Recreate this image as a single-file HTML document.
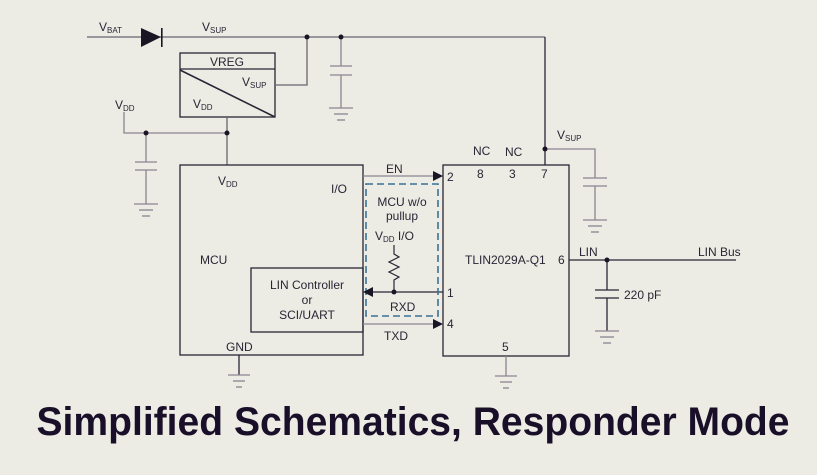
<!DOCTYPE html>
<html><head><meta charset="utf-8"><style>
html,body{margin:0;padding:0;background:#ecebe4;}
svg{display:block}
text{font-family:"Liberation Sans",sans-serif;fill:#2a2535;font-size:12px}
.s{font-size:8px}
</style></head><body>
<svg width="817" height="475" viewBox="0 0 817 475" xmlns="http://www.w3.org/2000/svg">
<rect width="817" height="475" fill="#ecebe4"/>
<g stroke="#2a2535" stroke-width="1.3" fill="none">
<line x1="87" y1="37" x2="545" y2="37" stroke="#6a6570"/>
<line x1="545" y1="37" x2="545" y2="165" stroke="#2a2535"/>
<rect x="180" y="53" width="95" height="64"/>
<line x1="180" y1="69" x2="275" y2="69"/>
<line x1="180" y1="70" x2="275" y2="117" stroke-width="1.6"/>
<polyline points="275,85 307,85 307,37" stroke="#6a6570"/>
<line x1="341" y1="37" x2="341" y2="66" stroke="#8a8590"/>
<line x1="341" y1="75" x2="341" y2="108" stroke="#8a8590"/>
<line x1="330" y1="66" x2="352" y2="66" stroke="#8a8590"/>
<line x1="330" y1="75" x2="352" y2="75" stroke="#8a8590"/>
<line x1="329" y1="108" x2="353" y2="108" stroke="#8a8590"/>
<line x1="334" y1="114" x2="348" y2="114" stroke="#8a8590"/>
<line x1="337" y1="120" x2="345" y2="120" stroke="#8a8590"/>
<polyline points="124,112 124,133 227,133" stroke="#8a8590"/>
<line x1="227" y1="117" x2="227" y2="165" stroke="#6a6570"/>
<line x1="146" y1="133" x2="146" y2="162" stroke="#8a8590"/>
<line x1="146" y1="170" x2="146" y2="204" stroke="#8a8590"/>
<line x1="135" y1="162" x2="157" y2="162" stroke="#8a8590"/>
<line x1="135" y1="170" x2="157" y2="170" stroke="#8a8590"/>
<line x1="134" y1="204" x2="158" y2="204" stroke="#8a8590"/>
<line x1="139" y1="210" x2="153" y2="210" stroke="#8a8590"/>
<line x1="142" y1="216" x2="150" y2="216" stroke="#8a8590"/>
<rect x="180" y="165" width="183" height="190"/>
<rect x="251" y="268" width="112" height="64"/>
<line x1="239" y1="355" x2="239" y2="375"/>
<line x1="228" y1="375" x2="250" y2="375" stroke="#8a8590"/>
<line x1="233" y1="381" x2="245" y2="381" stroke="#8a8590"/>
<line x1="236" y1="387" x2="242" y2="387" stroke="#8a8590"/>
<line x1="363" y1="176" x2="435" y2="176" stroke="#8a8590"/>
<line x1="370" y1="292" x2="443" y2="292"/>
<line x1="363" y1="324" x2="435" y2="324" stroke="#8a8590"/>
<rect x="366" y="184" width="72" height="132" stroke="#3a7396" stroke-width="1.6" stroke-dasharray="7,4"/>
<polyline points="394,245 394,254 399,257 389,262 399,267 389,272 399,277 394,280 394,292" stroke-width="1.2"/>
<rect x="443" y="165" width="126" height="191"/>
<line x1="506" y1="356" x2="506" y2="376" stroke="#8a8590"/>
<line x1="495" y1="376" x2="517" y2="376" stroke="#8a8590"/>
<line x1="500" y1="382" x2="512" y2="382" stroke="#8a8590"/>
<line x1="503" y1="388" x2="509" y2="388" stroke="#8a8590"/>
<polyline points="545,149 595,149 595,178" stroke="#8a8590"/>
<line x1="595" y1="186" x2="595" y2="220" stroke="#8a8590"/>
<line x1="583" y1="178" x2="607" y2="178" stroke="#8a8590"/>
<line x1="583" y1="186" x2="607" y2="186" stroke="#8a8590"/>
<line x1="583" y1="220" x2="607" y2="220" stroke="#8a8590"/>
<line x1="588" y1="226" x2="602" y2="226" stroke="#8a8590"/>
<line x1="591" y1="232" x2="599" y2="232" stroke="#8a8590"/>
<line x1="569" y1="260" x2="736" y2="260"/>
<line x1="607" y1="260" x2="607" y2="290"/>
<line x1="607" y1="298" x2="607" y2="331"/>
<line x1="595" y1="290" x2="619" y2="290"/>
<line x1="595" y1="298" x2="619" y2="298"/>
<line x1="595" y1="331" x2="619" y2="331" stroke="#8a8590"/>
<line x1="600" y1="337" x2="614" y2="337" stroke="#8a8590"/>
<line x1="603" y1="343" x2="611" y2="343" stroke="#8a8590"/>
</g>
<g fill="#1a1525">
<polygon points="141,28 141,47 161,37"/>
<rect x="161" y="28" width="1.6" height="19"/>
<circle cx="307" cy="37" r="2.5"/><circle cx="341" cy="37" r="2.5"/>
<circle cx="146" cy="133" r="2.5"/><circle cx="227" cy="133" r="2.5"/>
<circle cx="394" cy="292" r="2.5"/><circle cx="545" cy="149" r="2.5"/>
<circle cx="607" cy="260" r="2.5"/>
<polygon points="433,171 443,176 433,181"/>
<polygon points="433,319 443,324 433,329"/>
<polygon points="373,287 363,292 373,297"/>
</g>
<text x="99" y="31">V<tspan class="s" dy="2">BAT</tspan></text>
<text x="202" y="31">V<tspan class="s" dy="2">SUP</tspan></text>
<text x="210" y="66">VREG</text>
<text x="242" y="86">V<tspan class="s" dy="2">SUP</tspan></text>
<text x="193" y="108">V<tspan class="s" dy="2">DD</tspan></text>
<text x="115" y="109">V<tspan class="s" dy="2">DD</tspan></text>
<text x="218" y="185">V<tspan class="s" dy="2">DD</tspan></text>
<text x="331" y="193">I/O</text>
<text x="200" y="264">MCU</text>
<text x="307" y="289" text-anchor="middle">LIN Controller</text>
<text x="307" y="304" text-anchor="middle">or</text>
<text x="307" y="319" text-anchor="middle">SCI/UART</text>
<text x="226" y="351">GND</text>
<text x="386" y="173">EN</text>
<text x="402" y="206" text-anchor="middle">MCU w/o</text>
<text x="402" y="220" text-anchor="middle">pullup</text>
<text x="375" y="240">V<tspan class="s" dy="2">DD</tspan><tspan dy="-2"> I/O</tspan></text>
<text x="390" y="311">RXD</text>
<text x="384" y="340">TXD</text>
<text x="447" y="181">2</text>
<text x="447" y="297">1</text>
<text x="447" y="328">4</text>
<text x="473" y="155">NC</text>
<text x="505" y="156">NC</text>
<text x="477" y="178">8</text>
<text x="509" y="178">3</text>
<text x="541" y="178">7</text>
<text x="557" y="139">V<tspan class="s" dy="2">SUP</tspan></text>
<text x="465" y="264">TLIN2029A-Q1</text>
<text x="558" y="264">6</text>
<text x="502" y="351">5</text>
<text x="579" y="256">LIN</text>
<text x="698" y="256">LIN Bus</text>
<text x="624" y="299">220 pF</text>
<text x="413" y="435" text-anchor="middle" textLength="753" lengthAdjust="spacingAndGlyphs" style="font-size:40px;font-weight:bold;fill:#1a0f28">Simplified Schematics, Responder Mode</text>
</svg>
</body></html>
